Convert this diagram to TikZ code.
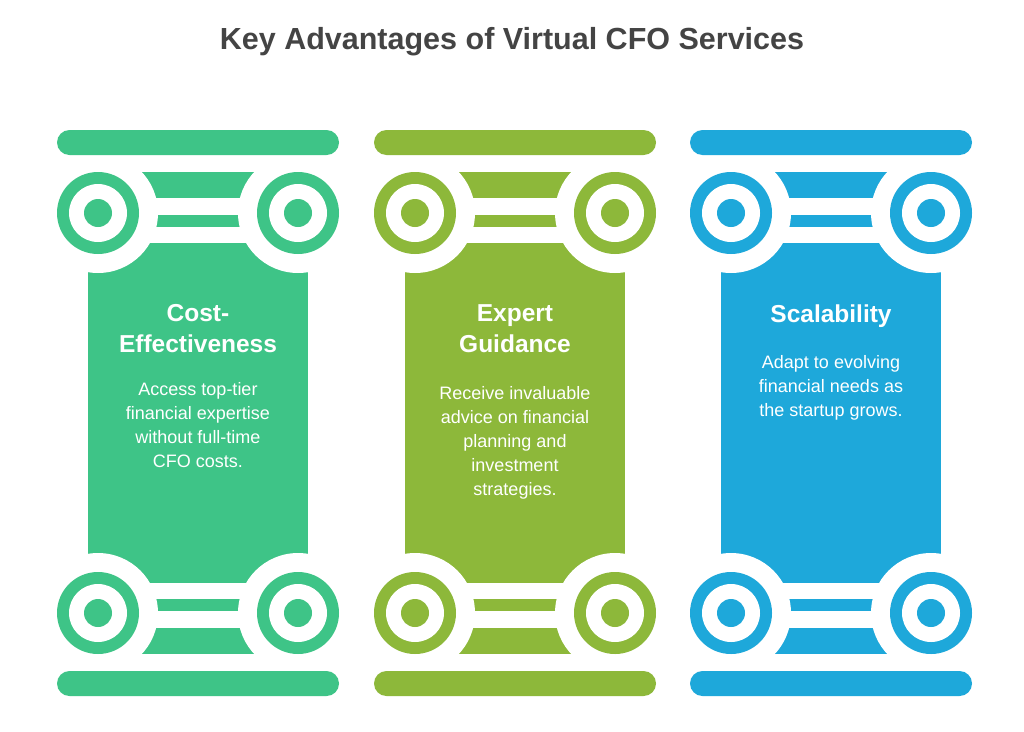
\documentclass[tikz,border=0pt]{standalone}
\usepackage{fontspec}
\setmainfont{Liberation Sans}
\definecolor{cgreen}{HTML}{3EC487}
\definecolor{colive}{HTML}{8DB83A}
\definecolor{cblue}{HTML}{1EA8DA}
\definecolor{ctitle}{HTML}{444444}
\begin{document}
\begin{tikzpicture}[x=1pt,y=-1pt,
  head/.style={text=white,font=\bfseries\fontsize{24.5}{31}\selectfont,align=center},
  body/.style={text=white,font=\fontsize{18}{24}\selectfont,align=center}]
\useasboundingbox[fill=white] (0,0) rectangle (1024,731);
\newcommand\capital[2]{
\begin{scope}[shift={(#1,413)},yscale=#2]
\fill[white] (-100,-215) rectangle (100,-198);
\fill[white] (-100,-186) rectangle (100,-170);
\foreach \s in {-1,1} {
\fill[white] (\s*100,-200) circle (60);
\fill[fill=\colr] (\s*100,-200) circle (41);
\fill[white] (\s*100,-200) circle (29);
\fill[fill=\colr] (\s*100,-200) circle (14);
}
\fill[fill=\colr,rounded corners=12.5] (-141,-283) rectangle (141,-258);
\end{scope}
}
\node[font=\bfseries\fontsize{30.5}{34}\selectfont,text=ctitle] (title) at (512,42) {Key Advantages of Virtual CFO Services};
\foreach \cx/\colr in {198/cgreen,515/colive,831/cblue} {
\fill[\colr] (\cx-110,172) rectangle (\cx+110,654);
\capital{\cx}{1}
\capital{\cx}{-1}
}
\node[head,anchor=north] (h1) at (198,301) {Cost-\\Effectiveness};
\node[body,anchor=north] (b1) at (198,379) {Access top-tier\\financial expertise\\without full-time\\CFO costs.};
\node[head,anchor=north] (h2) at (515,301) {Expert\\Guidance};
\node[body,anchor=north] (b2) at (515,383) {Receive invaluable\\advice on financial\\planning and\\investment\\strategies.};
\node[head,anchor=north] (h3) at (831,301) {Scalability};
\node[body,anchor=north] (b3) at (831,352) {Adapt to evolving\\financial needs as\\the startup grows.};
\end{tikzpicture}
\end{document}
